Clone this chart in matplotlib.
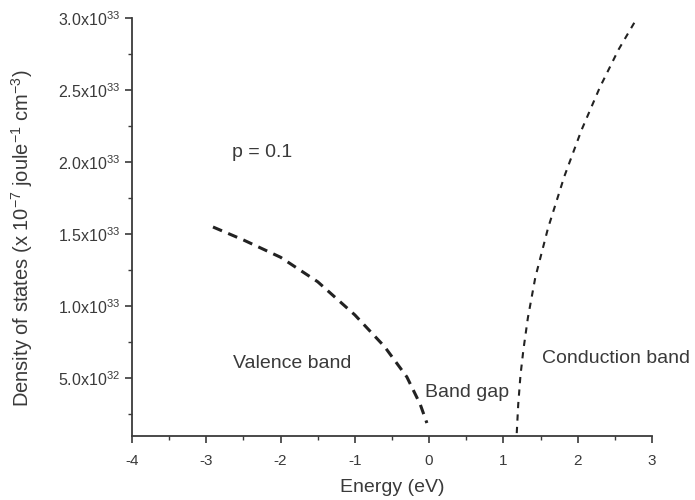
import numpy as np
import matplotlib
matplotlib.use("Agg")
import matplotlib.pyplot as plt
from matplotlib.ticker import FixedLocator, FixedFormatter, MultipleLocator

plt.rcParams['font.family'] = ['Liberation Sans', 'DejaVu Sans']
plt.rcParams['mathtext.fontset'] = 'custom'
plt.rcParams['mathtext.rm'] = 'Liberation Sans'
plt.rcParams['axes.unicode_minus'] = False

# density of states, in units of 1e33
valence_e = [-2.91, -2.5, -2.0, -1.5, -1.0, -0.6, -0.3, -0.12, -0.03]
valence_g = [1.55, 1.46, 1.34, 1.17, 0.94, 0.72, 0.51, 0.32, 0.19]
conduction_e = [1.18, 1.20, 1.23, 1.27, 1.33, 1.43, 1.60, 1.82, 2.05, 2.30, 2.55, 2.80]
conduction_g = [0.12, 0.32, 0.52, 0.70, 0.92, 1.20, 1.54, 1.90, 2.22, 2.52, 2.78, 3.00]

ytick_vals = [0.5, 1.0, 1.5, 2.0, 2.5, 3.0]
ytick_labels = [r'5.0x10$^{32}$', r'1.0x10$^{33}$', r'1.5x10$^{33}$',
                r'2.0x10$^{33}$', r'2.5x10$^{33}$', r'3.0x10$^{33}$']

ink = '#3a3a3a'

fig = plt.figure(figsize=(6.95, 5.0), dpi=100)
ax = fig.add_axes([0.19, 0.128, 0.748, 0.836])

ax.plot(valence_e, valence_g, color='#222222', lw=2.2, ls=(0, (3.2, 2.2)))
ax.plot(conduction_e, conduction_g, color='#222222', lw=1.5, ls=(0, (3.0, 3.0)))

ax.set_xlim(-4, 3)
ax.set_ylim(0.1, 3.0)
ax.xaxis.set_major_locator(MultipleLocator(1))
ax.xaxis.set_minor_locator(MultipleLocator(0.5))
ax.yaxis.set_major_locator(FixedLocator(ytick_vals))
ax.yaxis.set_major_formatter(FixedFormatter(ytick_labels))
ax.yaxis.set_minor_locator(FixedLocator([0.25, 0.75, 1.25, 1.75, 2.25, 2.75]))

for s in ['top', 'right']:
    ax.spines[s].set_visible(False)
for s in ['left', 'bottom']:
    ax.spines[s].set_color(ink)
    ax.spines[s].set_linewidth(1.3)

ax.tick_params(which='major', direction='out', length=5, width=1.2, colors=ink,
               labelsize=11.5)
ax.tick_params(axis='x', which='major', pad=8, labelsize=11)
ax.tick_params(which='minor', direction='out', length=3, width=1.0, colors=ink)

ax.set_xlabel('Energy (eV)', fontsize=14, color=ink)
ax.set_ylabel(r'Density of states (x 10$^{-7}$ joule$^{-1}$ cm$^{-3}$)',
              fontsize=14.5, color=ink)
ax.xaxis.set_label_coords(0.5, -0.103)
ax.yaxis.set_label_coords(-0.187, 0.474)

ax.text(-2.65, 2.07, 'p = 0.1', fontsize=14, color=ink, va='center')
ax.text(-2.64, 0.60, 'Valence band', fontsize=14, color=ink, va='center')
ax.text(-0.05, 0.40, 'Band gap', fontsize=14, color=ink, va='center')
ax.text(1.52, 0.64, 'Conduction band', fontsize=14, color=ink, va='center')

fig.savefig('out.png', dpi=100)
